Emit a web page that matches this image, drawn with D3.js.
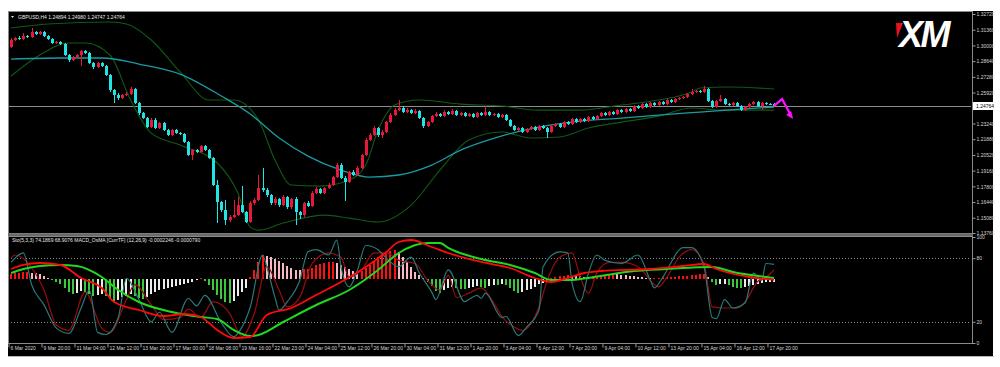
<!DOCTYPE html>
<html>
<head>
<meta charset="utf-8" />
<script src="https://cdn.jsdelivr.net/npm/d3@7/dist/d3.min.js"></script>
<style>
  body { margin: 0; background: #fff; }
  svg { display: block; font-family: "Liberation Sans", Arial, sans-serif; }
  .axis text { fill: #d4d4d4; font-size: 5px; }
  .axis path { display: none; }
  .axis line { stroke: #9a9a9a; }
</style>
</head>
<body>
<svg width="1000" height="367"></svg>
<script>
// GBPUSD H4, 186 bars; open of each bar = previous close
var firstOpen = 1.2986;
var closes = [
  1.3047,1.3064,1.3055,1.3081,1.3073,1.3116,1.3099,1.3116,1.3081,1.3055,
  1.3021,1.3029,1.3012,1.2917,1.2873,1.2899,1.2917,1.2951,1.2934,1.2847,
  1.2813,1.2847,1.2821,1.2744,1.2614,1.2570,1.2544,1.2570,1.2579,1.2622,
  1.2501,1.2414,1.2371,1.2293,1.2354,1.2284,1.2328,1.2267,1.2224,1.2267,
  1.2241,1.2233,1.2163,1.2051,1.2094,1.2077,1.2129,1.2094,1.2025,1.1791,
  1.1644,1.1574,1.1488,1.1514,1.1531,1.1618,1.1557,1.1471,1.1635,1.1661,
  1.1765,1.1747,1.1704,1.1635,1.1670,1.1618,1.1687,1.1600,1.1670,1.1557,
  1.1531,1.1635,1.1609,1.1722,1.1756,1.1722,1.1765,1.1791,1.1860,1.1964,
  1.1852,1.1817,1.1903,1.1878,1.1938,1.2051,1.2181,1.2224,1.2284,1.2224,
  1.2250,1.2336,1.2397,1.2440,1.2458,1.2423,1.2440,1.2414,1.2432,1.2371,
  1.2302,1.2336,1.2388,1.2406,1.2388,1.2423,1.2406,1.2432,1.2397,1.2414,
  1.2388,1.2406,1.2380,1.2414,1.2397,1.2423,1.2397,1.2406,1.2380,1.2397,
  1.2354,1.2302,1.2267,1.2284,1.2250,1.2276,1.2293,1.2267,1.2302,1.2284,
  1.2250,1.2302,1.2319,1.2293,1.2336,1.2319,1.2362,1.2336,1.2362,1.2345,
  1.2380,1.2362,1.2388,1.2414,1.2397,1.2423,1.2406,1.2440,1.2423,1.2449,
  1.2432,1.2475,1.2458,1.2492,1.2466,1.2501,1.2484,1.2510,1.2492,1.2527,
  1.2510,1.2536,1.2544,1.2553,1.2579,1.2596,1.2605,1.2596,1.2622,1.2518,
  1.2466,1.2518,1.2536,1.2492,1.2484,1.2501,1.2475,1.2440,1.2466,1.2492,
  1.2510,1.2475,1.2501,1.2497,1.24894,1.24764
];
var highs = [
  1.3060,1.3075,1.3081,1.3107,1.3090,1.3150,1.3125,1.3128,1.3125,1.3090,
  1.3064,1.3040,1.3038,1.3021,1.2925,1.2910,1.2930,1.2960,1.2960,1.2943,
  1.2856,1.2856,1.2856,1.2830,1.2752,1.2622,1.2588,1.2580,1.2596,1.2640,
  1.2631,1.2510,1.2423,1.2380,1.2371,1.2371,1.2336,1.2336,1.2276,1.2276,
  1.2276,1.2250,1.2241,1.2172,1.2103,1.2103,1.2137,1.2137,1.2103,1.2033,
  1.1834,1.1652,1.1661,1.1531,1.1661,1.1687,1.1782,1.1566,1.1652,1.1678,
  1.1878,1.1938,1.1765,1.1713,1.1687,1.1678,1.1704,1.1696,1.1678,1.1687,
  1.1566,1.1644,1.1652,1.1739,1.1774,1.1765,1.1774,1.1808,1.1869,1.1981,
  1.1981,1.1869,1.1912,1.1921,1.1955,1.2060,1.2198,1.2241,1.2302,1.2293,
  1.2267,1.2345,1.2414,1.2458,1.2527,1.2475,1.2458,1.2449,1.2449,1.2440,
  1.2380,1.2345,1.2397,1.2423,1.2414,1.2440,1.2432,1.2449,1.2440,1.2423,
  1.2423,1.2414,1.2414,1.2423,1.2423,1.2475,1.2432,1.2414,1.2414,1.2406,
  1.2406,1.2362,1.2310,1.2293,1.2293,1.2284,1.2302,1.2302,1.2310,1.2310,
  1.2293,1.2310,1.2328,1.2328,1.2345,1.2345,1.2371,1.2371,1.2371,1.2371,
  1.2388,1.2388,1.2397,1.2423,1.2423,1.2432,1.2432,1.2449,1.2449,1.2458,
  1.2458,1.2484,1.2484,1.2501,1.2501,1.2510,1.2510,1.2518,1.2518,1.2536,
  1.2536,1.2544,1.2553,1.2562,1.2588,1.2622,1.2614,1.2614,1.2648,1.2631,
  1.2527,1.2527,1.2570,1.2544,1.2501,1.2510,1.2510,1.2484,1.2475,1.2501,
  1.2518,1.2518,1.2510,1.2510,1.2505,1.24980
];
var lows = [
  1.2975,1.3038,1.3046,1.3047,1.3064,1.3060,1.3090,1.3090,1.3070,1.3046,
  1.3012,1.3010,1.3000,1.2908,1.2860,1.2865,1.2890,1.2821,1.2925,1.2839,
  1.2800,1.2804,1.2810,1.2735,1.2600,1.2505,1.2530,1.2536,1.2560,1.2570,
  1.2492,1.2400,1.2360,1.2284,1.2284,1.2276,1.2276,1.2259,1.2215,1.2215,
  1.2233,1.2224,1.2155,1.2042,1.2007,1.2068,1.2068,1.2085,1.2016,1.1782,
  1.1462,1.1557,1.1445,1.1471,1.1505,1.1522,1.1548,1.1462,1.1462,1.1618,
  1.1652,1.1730,1.1687,1.1618,1.1618,1.1600,1.1609,1.1583,1.1583,1.1445,
  1.1496,1.1514,1.1600,1.1600,1.1713,1.1713,1.1713,1.1756,1.1782,1.1852,
  1.1843,1.1652,1.1808,1.1869,1.1869,1.1929,1.2042,1.2172,1.2215,1.2207,
  1.2198,1.2241,1.2328,1.2388,1.2432,1.2414,1.2414,1.2406,1.2406,1.2362,
  1.2284,1.2293,1.2328,1.2380,1.2380,1.2380,1.2397,1.2397,1.2388,1.2388,
  1.2380,1.2380,1.2371,1.2371,1.2388,1.2388,1.2388,1.2388,1.2371,1.2371,
  1.2345,1.2293,1.2259,1.2259,1.2241,1.2241,1.2267,1.2259,1.2259,1.2276,
  1.2198,1.2241,1.2293,1.2284,1.2284,1.2310,1.2310,1.2328,1.2328,1.2336,
  1.2336,1.2354,1.2354,1.2380,1.2388,1.2388,1.2397,1.2397,1.2414,1.2414,
  1.2423,1.2423,1.2449,1.2449,1.2458,1.2458,1.2475,1.2475,1.2484,1.2484,
  1.2501,1.2501,1.2527,1.2536,1.2544,1.2570,1.2588,1.2588,1.2588,1.2510,
  1.2458,1.2458,1.2510,1.2484,1.2475,1.2475,1.2466,1.2432,1.2432,1.2458,
  1.2484,1.2466,1.2440,1.2484,1.2484,1.24747
];

// indicator lines: [bar index, value]
var maLine = [[0,1.2882],[12,1.2891],[22,1.2891],[31,1.2839],[41,1.2752],[51,1.2562],[58,1.2406],
  [65,1.2198],[72,1.2042],[80,1.1921],[87,1.1860],[94,1.1878],[102,1.1964],[109,1.2094],[118,1.2207],
  [128,1.2293],[138,1.2345],[148,1.2371],[157,1.2397],[167,1.2423],[177,1.2449],[185,1.2466]];
var bbUpper = [[0,1.3151],[9,1.3185],[24,1.3203],[28,1.3185],[34,1.3047],[41,1.2770],[48,1.2527],
  [54,1.2527],[60,1.2354],[64,1.2007],[68,1.1791],[75,1.1782],[82,1.1834],[86,1.1964],[89,1.2267],
  [93,1.2484],[99,1.2527],[109,1.2492],[119,1.2475],[128,1.2440],[138,1.2440],[148,1.2484],
  [157,1.2527],[165,1.2596],[167,1.2631],[174,1.2640],[185,1.2622]];
var bbLower = [[0,1.2735],[7,1.2917],[14,1.3021],[18,1.3021],[24,1.2917],[29,1.2527],[34,1.2241],
  [41,1.2137],[50,1.1982],[55,1.1722],[58,1.1427],[60,1.1401],[66,1.1462],[76,1.1531],[82,1.1505],
  [89,1.1471],[97,1.1618],[104,1.1921],[111,1.2181],[119,1.2250],[126,1.2198],[133,1.2207],
  [140,1.2285],[148,1.2336],[157,1.2388],[165,1.2458],[172,1.2440],[185,1.2440]];

var stochMain = [[0,76],[3,85],[5,55],[8,36],[11,14],[14,9],[17,33],[19,50],[21,10],[23,8],[26,24],
  [28,61],[31,41],[34,20],[36,29],[39,10],[43,42],[45,35],[47,45],[51,19],[54,6],[56,15],[58,34],
  [61,83],[62,72],[64,43],[65,31],[67,39],[70,59],[72,86],[74,88],[77,83],[79,97],[80,72],[82,53],
  [84,69],[86,92],[89,88],[91,80],[94,72],[97,81],[99,66],[102,48],[103,41],[106,69],[110,39],
  [111,41],[113,45],[114,42],[115,47],[119,24],[120,25],[123,7],[125,15],[128,31],[129,72],[133,86],
  [135,85],[136,57],[138,39],[140,66],[142,83],[144,78],[148,75],[152,83],[155,59],[156,52],[158,62],
  [163,90],[165,90],[168,72],[170,24],[171,23],[173,41],[175,33],[178,38],[180,66],[182,59],[183,75],
  [185,74.19]];
var stochSignal = [[0,80],[1,83],[5,71],[8,50],[11,17],[14,12],[18,48],[22,14],[24,10],[28,41],[30,55],
  [34,36],[37,22],[41,24],[43,32],[46,24],[49,39],[53,28],[56,6],[59,28],[62,72],[65,50],[67,34],
  [70,43],[73,75],[77,85],[80,81],[82,62],[85,69],[88,85],[91,85],[94,78],[98,75],[101,59],[104,50],
  [106,64],[108,43],[111,47],[114,52],[117,38],[119,25],[122,15],[124,12],[128,34],[130,59],[133,81],
  [136,85],[138,62],[140,47],[142,66],[145,76],[148,76],[152,72],[157,53],[159,62],[162,81],[165,88],
  [168,75],[170,34],[173,33],[176,33],[178,39],[181,58],[183,62],[185,68.91]];

// MACD lines, units of 0.0001
var macdMain = [[0,30],[3,42],[7,48],[12,42],[17,3],[22,-27],[25,-69],[31,-93],[37,-111],[42,-105],
  [46,-114],[50,-153],[54,-177],[58,-174],[62,-108],[68,-87],[74,-48],[80,-9],[86,36],[91,81],
  [94,111],[97,117],[102,96],[106,78],[114,51],[121,33],[127,3],[131,-9],[135,3],[139,18],[143,24],
  [155,30],[163,39],[168,45],[171,30],[179,6],[185,-2.246]];
var macdSignal = [[0,18],[3,30],[7,39],[12,42],[16,39],[22,6],[26,-33],[31,-69],[39,-99],[46,-114],
  [50,-120],[54,-153],[58,-171],[60,-168],[66,-129],[74,-78],[82,-33],[89,27],[94,78],[101,108],
  [104,108],[106,93],[114,60],[121,42],[127,18],[131,-3],[135,-3],[143,9],[151,24],[159,30],
  [170,36],[175,21],[185,3]];

// OsMA histogram, one value per bar, units of 0.00001
var osma = [
  15,18,19.5,21,21,19.5,18,15,10.5,4.5,
  -3,-9,-15,-27,-39,-45,-42,-36,-39,-45,
  -51,-48,-45,-51,-60,-66,-63,-54,-51,-45,
  -51,-57,-60,-54,-45,-39,-33,-30,-27,-24,
  -21,-18,-15,-12,-9,-3,3,-6,-18,-33,
  -48,-60,-69,-72,-66,-51,-39,-27,6,27,
  51,72,69,66,60,54,48,39,33,28.5,
  27,30,31.5,33,42,45,48,51,52.5,48,
  42,36,30,24,18,24,33,42,54,66,
  75,81,84,87,81,66,51,36,21,12,
  3,-9,-21,-36,-42,-33,-27,-24,-27,-30,
  -31.5,-27,-24,-21,-24,-27,-21,-18,-18,-15,
  -18,-27,-36,-42,-39,-33,-30,-24,-15,-12,
  -6,3,6,9,10.5,12,9,8.4,7.8,7.2,
  6.6,9,10.5,12,13.5,15,16.5,15,13.5,12,
  10.5,9,7.5,6,4.5,3,3.6,4.2,4.8,5.4,
  6,6.9,7.8,9,10.5,12,13.5,15,16.5,6,
  -9,-18,-16.5,-15,-19.5,-24,-27,-28.5,-24,-21,
  -18,-15,-12,-10.5,-9,-7.9
];

var priceTicks = [1.3272,1.3136,1.3000,1.2864,1.2728,1.2592,1.2324,1.2188,1.2052,1.1916,1.1780,1.1644,1.1508,1.1376];
var stochTicks = [100, 80, 20, 0];
var stochLevels = [80, 20];
var timeLabels = ["6 Mar 2020","9 Mar 20:00","11 Mar 04:00","12 Mar 12:00","13 Mar 20:00","17 Mar 00:00",
  "18 Mar 08:00","19 Mar 16:00","22 Mar 23:00","24 Mar 04:00","25 Mar 12:00","26 Mar 20:00",
  "30 Mar 04:00","31 Mar 12:00","1 Apr 20:00","3 Apr 04:00","6 Apr 12:00","7 Apr 20:00",
  "9 Apr 04:00","10 Apr 12:00","13 Apr 20:00","15 Apr 04:00","16 Apr 12:00","17 Apr 20:00"];
var symbolTitle = "GBPUSD,H4  1.24894 1.24980 1.24747 1.24764";
var subTitle = "Sto(5,3,3) 74.1869 68.9076   MACD_OsMA [CurrTF] (12,26,9) -0.0002246 -0.0000790";

function draw() {
  "use strict";

  var left = 8, right = 972,
    mainTop = 11, mainBottom = 233,
    subTop = 236, subBottom = 343;

  const upColor = "#e8173c",
    downColor = "#22e4e4",
    bandColor = "#0e5a16",
    maColor = "#1c9aa2";

  var svg = d3.select("svg");

  svg.append("rect").attr("x", left).attr("y", mainTop)
    .attr("width", 993 - left).attr("height", 356 - mainTop).style("fill", "#000");
  svg.append("line").attr("x1", left).attr("x2", 994).attr("y1", 356.5).attr("y2", 356.5)
    .style("stroke", "#b8b8b8");

  var x = d3.scaleLinear().domain([0, closes.length - 1]).range([11, 774.1]);
  var y = d3.scaleLinear().domain([1.1376, 1.3272]).range([mainBottom, 14]);
  var yStoch = d3.scaleLinear().domain([0, 100]).range([subBottom, 237]);
  var yMacd = d3.scaleLinear().domain([-200, 200]).range([279 + 66.67, 279 - 66.67]);
  var yOsma = d3.scaleLinear().domain([-100, 100]).range([279 + 33.33, 279 - 33.33]);

  var defs = svg.append("defs");
  defs.append("clipPath").attr("id", "clipMain").append("rect")
    .attr("x", left + 1).attr("y", mainTop + 1).attr("width", right - left - 2).attr("height", mainBottom - mainTop - 2);
  defs.append("clipPath").attr("id", "clipSub").append("rect")
    .attr("x", left + 1).attr("y", subTop + 1).attr("width", right - left - 2).attr("height", subBottom - subTop - 2);

  // ---- main window ----
  var main = svg.append("g").attr("clip-path", "url(#clipMain)");

  var bars = closes.map(function(c, i) {
    return { i: i, o: i === 0 ? firstOpen : closes[i - 1], h: highs[i], l: lows[i], c: c };
  });

  var lastClose = closes[closes.length - 1];
  main.append("line").attr("x1", left).attr("x2", right)
    .attr("y1", Math.round(y(lastClose)) + 0.5).attr("y2", Math.round(y(lastClose)) + 0.5)
    .style("stroke", "#8c8c8c");

  var pline = d3.line().x(d => x(d[0])).y(d => y(d[1])).curve(d3.curveMonotoneX);
  [bbUpper, bbLower].forEach(function(b) {
    main.append("path").attr("d", pline(b))
      .style("fill", "none").style("stroke", bandColor).style("stroke-width", 1.1);
  });
  main.append("path").attr("d", pline(maLine))
    .style("fill", "none").style("stroke", maColor).style("stroke-width", 1.3);

  var candle = main.selectAll("g.bar").data(bars).enter().append("g").attr("class", "bar")
    .style("shape-rendering", "crispEdges");
  candle.append("line")
    .attr("x1", d => Math.round(x(d.i)) + 0.5).attr("x2", d => Math.round(x(d.i)) + 0.5)
    .attr("y1", d => y(d.h)).attr("y2", d => y(d.l))
    .style("stroke", d => d.c >= d.o ? upColor : downColor);
  candle.append("rect")
    .attr("x", d => Math.round(x(d.i)) - 1).attr("width", 3)
    .attr("y", d => y(Math.max(d.o, d.c)))
    .attr("height", d => Math.max(1, Math.abs(y(d.o) - y(d.c))))
    .style("fill", d => d.c >= d.o ? upColor : downColor);

  // forecast arrow
  var xl = x(closes.length - 1), yl = y(lastClose);
  svg.append("path")
    .attr("d", `M${xl},${yl} L${xl + 8},${yl - 7} L${xl + 16},${yl + 8}`)
    .style("fill", "none").style("stroke", "#ff10ff").style("stroke-width", 2.2);
  svg.append("path")
    .attr("d", `M${xl + 19},${yl + 13} L${xl + 12},${yl + 9} L${xl + 17},${yl + 5} Z`)
    .style("fill", "#ff10ff");

  // XM logo
  svg.append("path").attr("d", "M896,23 L903,23 L897,38 Z").style("fill", "#e8141c");
  svg.append("text").attr("x", 899).attr("y", 47).text("XM")
    .style("fill", "#fff").style("font-size", "36px").style("font-weight", "bold")
    .style("font-style", "italic").style("letter-spacing", "-2.5px");

  // title
  svg.append("path").attr("d", "M11,16 L14,16 L12.5,18 Z").style("fill", "#ddd");
  svg.append("text").attr("x", 18).attr("y", 18.5).text(symbolTitle)
    .style("fill", "#e6e6e6").style("font-size", "5px");

  // frames
  svg.append("rect").attr("x", left + 0.5).attr("y", mainTop + 0.5)
    .attr("width", right - left).attr("height", mainBottom - mainTop)
    .style("fill", "none").style("stroke", "#8a8a8a");
  svg.append("rect").attr("x", left).attr("y", mainBottom + 0.5)
    .attr("width", right - left + 1).attr("height", 2.5).style("fill", "#6a6a6a");
  svg.append("rect").attr("x", left + 0.5).attr("y", subTop + 0.5)
    .attr("width", right - left).attr("height", subBottom - subTop)
    .style("fill", "none").style("stroke", "#8a8a8a");

  // price axis
  var yAxis = svg.append("g").attr("class", "axis")
    .attr("transform", `translate(${right + 0.5},0)`)
    .call(d3.axisRight(y).tickValues(priceTicks).tickFormat(d3.format(".5f")).tickSize(3));
  yAxis.selectAll("text").attr("x", 4).attr("dy", "0.35em");

  var tag = svg.append("g").attr("transform", `translate(${right + 1},${Math.round(y(lastClose))})`);
  tag.append("rect").attr("x", 0).attr("y", -4).attr("width", 21).attr("height", 8).style("fill", "#fff");
  tag.append("text").attr("x", 3).attr("y", 2).text(d3.format(".5f")(lastClose))
    .style("fill", "#000").style("font-size", "5px");

  // ---- sub window ----
  var sub = svg.append("g").attr("clip-path", "url(#clipSub)");

  stochLevels.forEach(function(v) {
    sub.append("line").attr("x1", left).attr("x2", right)
      .attr("y1", Math.round(yStoch(v)) + 0.5).attr("y2", Math.round(yStoch(v)) + 0.5)
      .style("stroke", "#8a8a8a").style("stroke-dasharray", "1,2");
  });

  sub.selectAll("rect.osma").data(osma).enter().append("rect").attr("class", "osma")
    .attr("x", (d, i) => Math.round(x(i)) - 1).attr("width", 2)
    .attr("y", d => Math.min(yOsma(0), yOsma(d)))
    .attr("height", d => Math.max(1, Math.abs(yOsma(d) - yOsma(0))))
    .style("shape-rendering", "crispEdges")
    .style("fill", function(d, i) {
      var prev = i === 0 ? 0 : osma[i - 1];
      if (d >= 0) return d >= prev ? "#ff1010" : "#f5b8c4";
      return d <= prev ? "#3cc83c" : "#ececec";
    });

  var sline = d3.line().x(d => x(d[0])).y(d => yStoch(d[1])).curve(d3.curveMonotoneX);
  var mline = d3.line().x(d => x(d[0])).y(d => yMacd(d[1])).curve(d3.curveMonotoneX);

  sub.append("path").attr("d", sline(stochSignal))
    .style("fill", "none").style("stroke", "#9a0c0c").style("stroke-width", 1.2);
  sub.append("path").attr("d", sline(stochMain))
    .style("fill", "none").style("stroke", "#2a7878").style("stroke-width", 1.2);
  sub.append("path").attr("d", mline(macdSignal))
    .style("fill", "none").style("stroke", "#20d820").style("stroke-width", 2);
  sub.append("path").attr("d", mline(macdMain))
    .style("fill", "none").style("stroke", "#ff0a0a").style("stroke-width", 1.8);

  svg.append("text").attr("x", 12).attr("y", 241.5).text(subTitle)
    .style("fill", "#e6e6e6").style("font-size", "5px");

  var sAxis = svg.append("g").attr("class", "axis")
    .attr("transform", `translate(${right + 0.5},0)`)
    .call(d3.axisRight(yStoch).tickValues(stochTicks).tickSize(3));
  sAxis.selectAll("text").attr("x", 4).attr("dy", "0.35em");

  // time axis
  var labelIdx = timeLabels.map((t, k) => k * 8);
  var xAxis = svg.append("g").attr("class", "axis")
    .attr("transform", `translate(-2.5,${subBottom + 0.5})`)
    .call(d3.axisBottom(x).tickValues(labelIdx).tickFormat((d, k) => timeLabels[k]).tickSize(4));
  xAxis.selectAll("text").attr("text-anchor", "start").attr("x", 1.5).attr("y", 5).attr("dy", "0.35em");
}

draw();
</script>
</body>
</html>
